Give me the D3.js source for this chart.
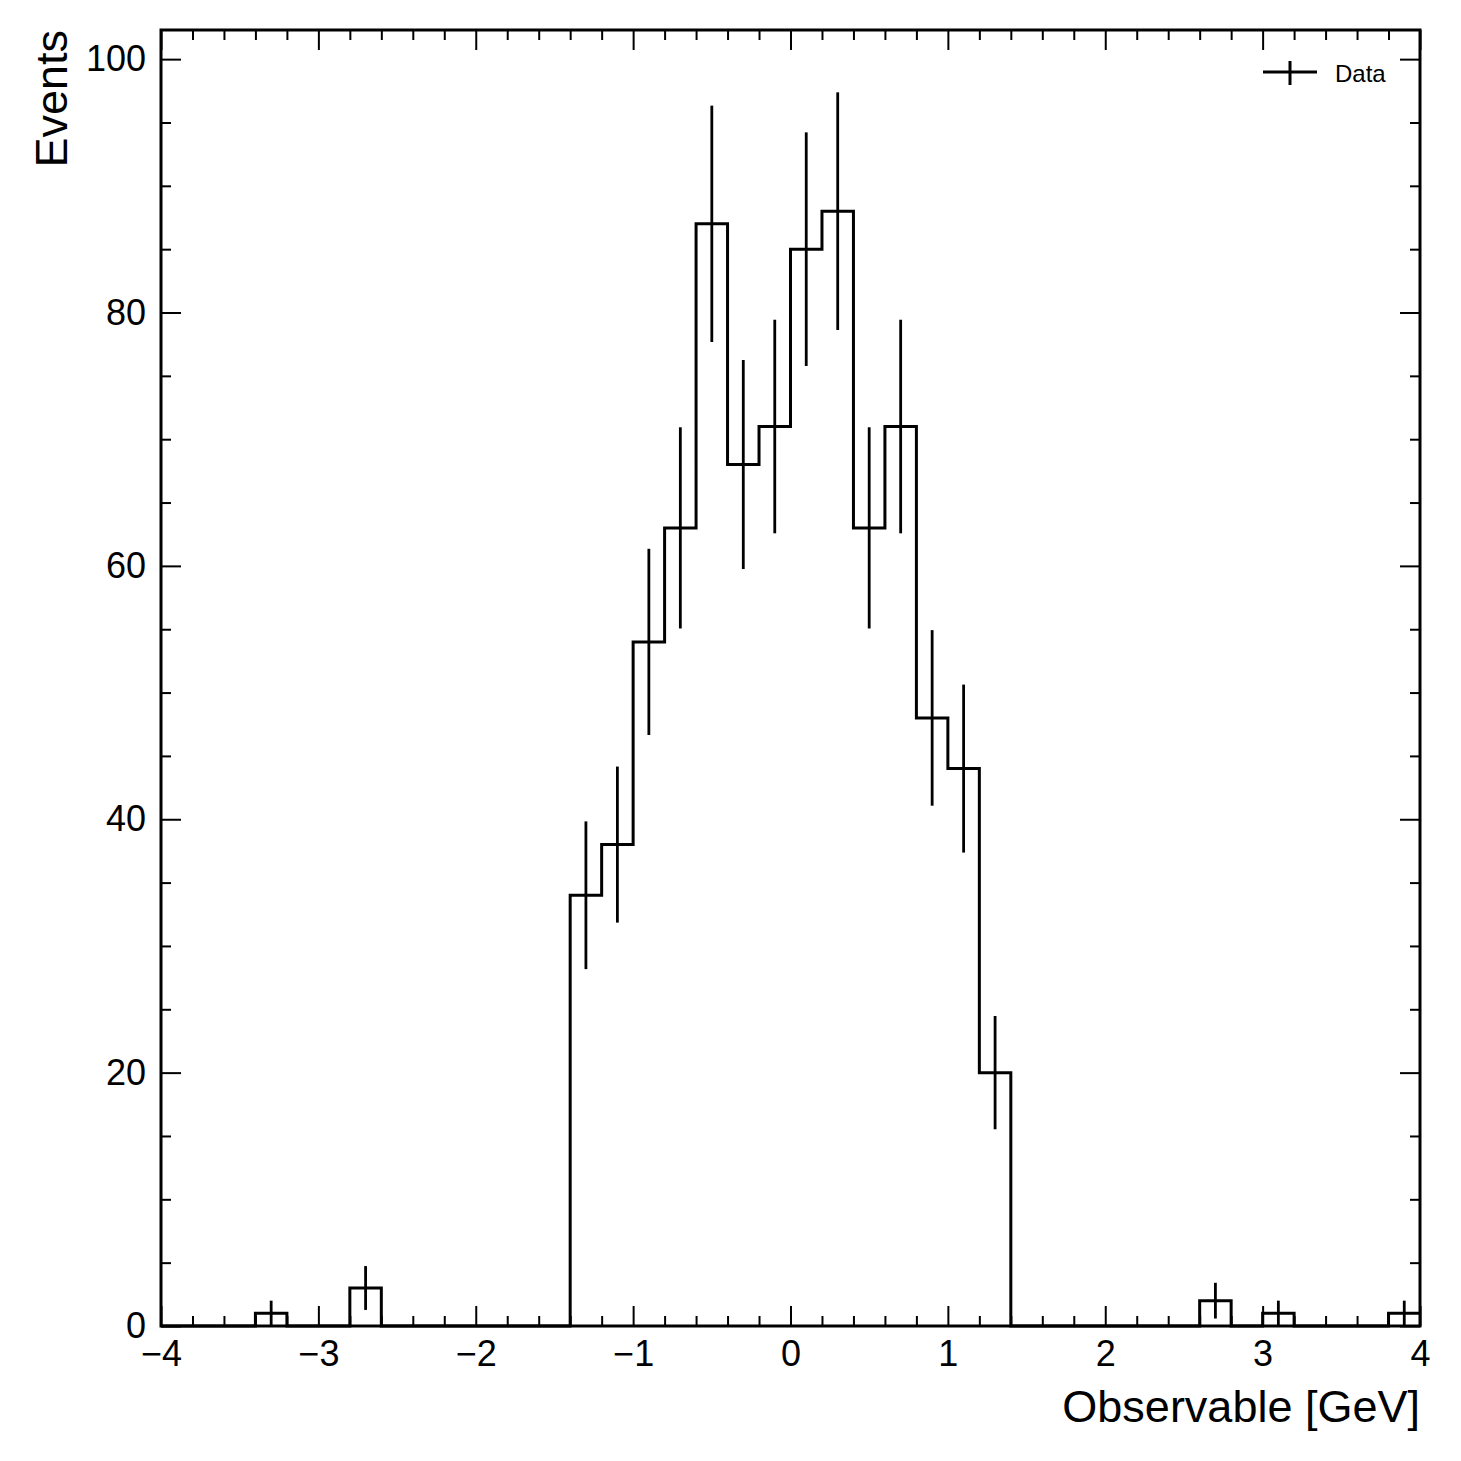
<!DOCTYPE html>
<html>
<head>
<meta charset="utf-8">
<script src="https://cdn.jsdelivr.net/npm/d3@7"></script>
<style>
    body { margin: 0; background: #fff; }
    text { font-family: "Liberation Sans", Arial, Helvetica, sans-serif; fill: #000; }
</style>
</head>
<body>
<div id="chart"></div>
<script>
// bin edges (GeV)
let binEdges = [-4.0, -3.8, -3.6, -3.4, -3.2, -3.0, -2.8, -2.6, -2.4, -2.2, -2.0,
    -1.8, -1.6, -1.4, -1.2, -1.0, -0.8, -0.6, -0.4, -0.2, 0.0,
    0.2, 0.4, 0.6, 0.8, 1.0, 1.2, 1.4, 1.6, 1.8, 2.0,
    2.2, 2.4, 2.6, 2.8, 3.0, 3.2, 3.4, 3.6, 3.8, 4.0];

// events per bin
let counts = [0, 0, 0, 1, 0, 0, 3, 0, 0, 0, 0, 0, 0,
    34, 38, 54, 63, 87, 68, 71, 85, 88, 63, 71, 48, 44, 20,
    0, 0, 0, 0, 0, 0, 2, 0, 1, 0, 0, 0, 1];

// error bar half-lengths per bin
let errors = [0, 0, 0, 1.0, 0, 0, 1.73, 0, 0, 0, 0, 0, 0,
    5.83, 6.16, 7.35, 7.94, 9.33, 8.25, 8.43, 9.22, 9.38, 7.94, 8.43, 6.93, 6.63, 4.47,
    0, 0, 0, 0, 0, 0, 1.41, 0, 1.0, 0, 0, 0, 1.0];

let xMajorTicks = [-4, -3, -2, -1, 0, 1, 2, 3, 4];
let yMajorTicks = [0, 20, 40, 60, 80, 100];
let xLabel = "Observable [GeV]";
let yLabel = "Events";
let legendLabel = "Data";

// layout
let margin = {top: 30, right: 41, bottom: 135, left: 161};
let totalW = 1461, totalH = 1461;
let width = totalW - margin.left - margin.right;
let height = totalH - margin.top - margin.bottom;

let svg = d3.select("#chart").append("svg")
    .attr("width", totalW)
    .attr("height", totalH);

let g = svg.append("g")
    .attr("transform", `translate(${margin.left}, ${margin.top})`);

let x = d3.scaleLinear().domain([-4, 4]).range([0, width]);
let y = d3.scaleLinear().domain([0, 102.3]).range([height, 0]);

// minor tick positions
let xMinor = d3.range(-40, 41, 2).map(d => d / 10).filter(d => !xMajorTicks.includes(d));
let yMinor = d3.range(0, 101, 5).filter(d => !yMajorTicks.includes(d));

function styleAxis(sel) {
    sel.select(".domain").remove();
    sel.selectAll(".tick line").attr("stroke", "#000").attr("stroke-width", 2);
    sel.selectAll(".tick text").style("font-size", "36px");
}

// bottom
g.append("g").attr("transform", `translate(0, ${height})`)
    .call(d3.axisBottom(x).tickValues(xMajorTicks).tickSize(-20).tickPadding(14).tickSizeOuter(0))
    .call(styleAxis);
g.append("g").attr("transform", `translate(0, ${height})`)
    .call(d3.axisBottom(x).tickValues(xMinor).tickSize(-10).tickFormat("").tickSizeOuter(0))
    .call(styleAxis);
// top
g.append("g")
    .call(d3.axisTop(x).tickValues(xMajorTicks).tickSize(-20).tickFormat("").tickSizeOuter(0))
    .call(styleAxis);
g.append("g")
    .call(d3.axisTop(x).tickValues(xMinor).tickSize(-10).tickFormat("").tickSizeOuter(0))
    .call(styleAxis);
// left
g.append("g")
    .call(d3.axisLeft(y).tickValues(yMajorTicks).tickSize(-20).tickPadding(15).tickSizeOuter(0))
    .call(styleAxis);
g.append("g")
    .call(d3.axisLeft(y).tickValues(yMinor).tickSize(-10).tickFormat("").tickSizeOuter(0))
    .call(styleAxis);
// right
g.append("g").attr("transform", `translate(${width}, 0)`)
    .call(d3.axisRight(y).tickValues(yMajorTicks).tickSize(-20).tickFormat("").tickSizeOuter(0))
    .call(styleAxis);
g.append("g").attr("transform", `translate(${width}, 0)`)
    .call(d3.axisRight(y).tickValues(yMinor).tickSize(-10).tickFormat("").tickSizeOuter(0))
    .call(styleAxis);

// histogram step line
let stepPoints = [];
counts.forEach((c, i) => {
    stepPoints.push([binEdges[i], c]);
    stepPoints.push([binEdges[i + 1], c]);
});

let line = d3.line()
    .x(d => x(d[0]))
    .y(d => y(d[1]));

g.append("path")
    .datum(stepPoints)
    .attr("d", line)
    .attr("fill", "none")
    .attr("stroke", "#000")
    .attr("stroke-width", 3);

// error bars
let bins = counts.map((c, i) => ({
    center: (binEdges[i] + binEdges[i + 1]) / 2,
    count: c,
    err: errors[i]
})).filter(d => d.count > 0);

g.selectAll(".errbar")
    .data(bins)
    .enter().append("line")
    .attr("class", "errbar")
    .attr("x1", d => x(d.center)).attr("x2", d => x(d.center))
    .attr("y1", d => y(Math.max(0, d.count - d.err)))
    .attr("y2", d => y(d.count + d.err))
    .attr("stroke", "#000")
    .attr("stroke-width", 2.8);

// frame
g.append("rect")
    .attr("width", width)
    .attr("height", height)
    .attr("fill", "none")
    .attr("stroke", "#000")
    .attr("stroke-width", 3);

// legend
let legend = g.append("g")
    .attr("class", "legend")
    .attr("transform", `translate(${width - 157}, 42)`);

legend.append("line")
    .attr("x1", 0).attr("x2", 54)
    .attr("y1", 0).attr("y2", 0)
    .attr("stroke", "#000").attr("stroke-width", 3);
legend.append("line")
    .attr("x1", 27).attr("x2", 27)
    .attr("y1", -11).attr("y2", 13)
    .attr("stroke", "#000").attr("stroke-width", 3);
legend.append("text")
    .attr("x", 72).attr("y", 10)
    .style("font-size", "24px")
    .text(legendLabel);

// axis titles
svg.append("text")
    .attr("x", margin.left + width)
    .attr("y", 1422)
    .attr("text-anchor", "end")
    .style("font-size", "45px")
    .text(xLabel);

svg.append("text")
    .attr("transform", `translate(67, ${margin.top}) rotate(-90)`)
    .attr("text-anchor", "end")
    .style("font-size", "45px")
    .text(yLabel);
</script>
</body>
</html>
